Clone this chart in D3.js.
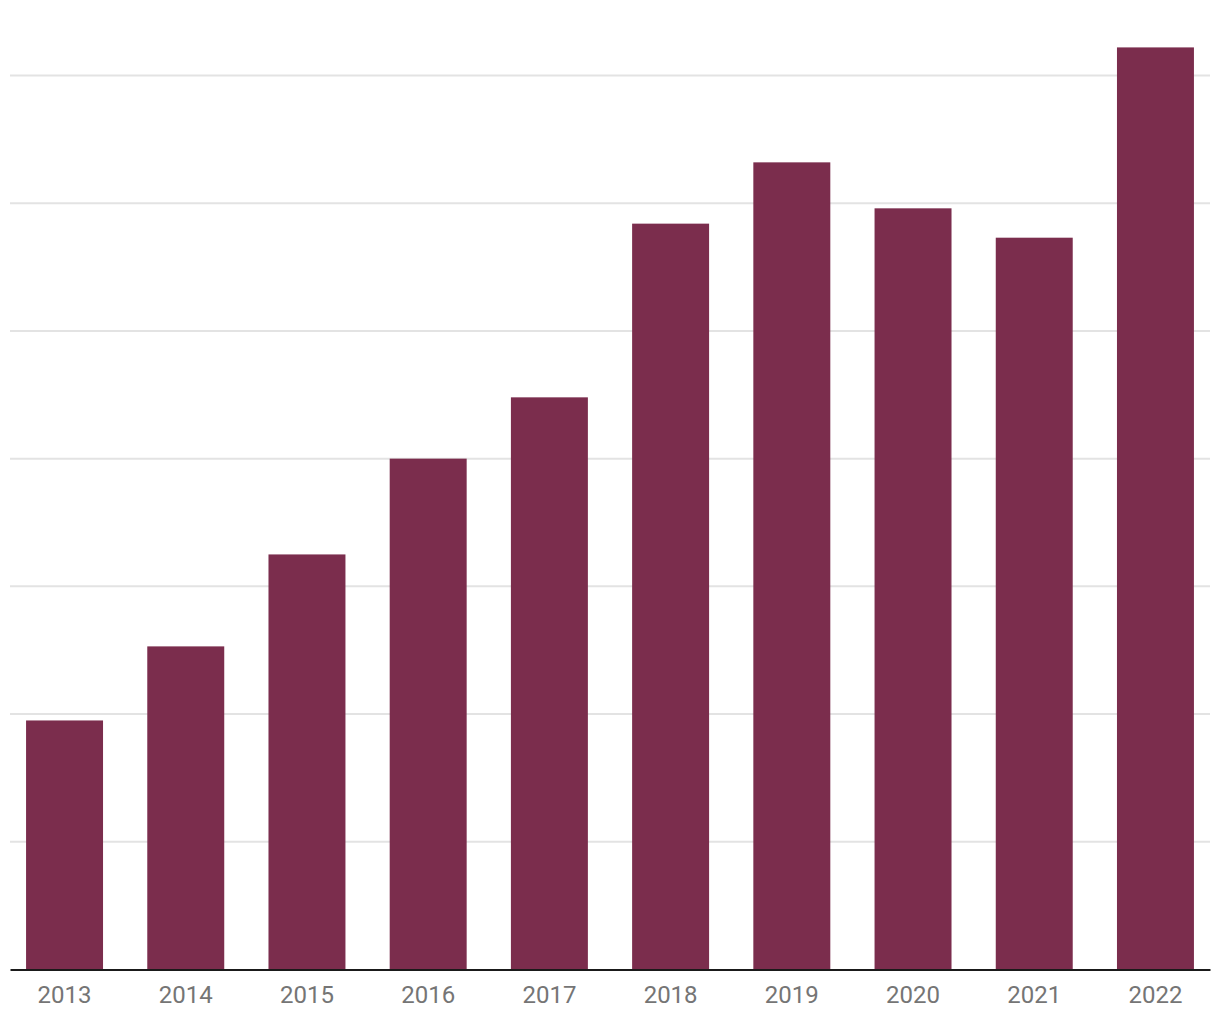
<!DOCTYPE html>
<html>
<head>
<meta charset="utf-8">
<script src="https://cdn.jsdelivr.net/npm/d3@7"></script>
<style>
  body { margin: 0; background: #fff; }
  .tick text { font-family: Roboto, sans-serif; }
</style>
</head>
<body>
<div id="chart"></div>
<script>
var svgWidth = 1220;
var svgHeight = 1020;

// chart values (no y labels shown, gridlines every 10)
var years = ["2013", "2014", "2015", "2016", "2017", "2018", "2019", "2020", "2021", "2022"];
var values = [19.5, 25.3, 32.5, 40.0, 44.8, 58.4, 63.2, 59.6, 57.3, 72.2];
var gridTicks = [10, 20, 30, 40, 50, 60, 70];

var margin = { top: 75.5, right: 10, bottom: 50.5, left: 10 };
var width = svgWidth - margin.left - margin.right;
var height = svgHeight - margin.top - margin.bottom;

var svg = d3.select("#chart")
  .append("svg")
  .attr("width", svgWidth)
  .attr("height", svgHeight);

var chartGroup = svg.append("g")
  .attr("transform", `translate(${margin.left}, ${margin.top})`);

var xBandScale = d3.scaleBand()
  .domain(years)
  .range([0, width])
  .paddingInner(0.365)
  .paddingOuter(0.1325);

var yLinearScale = d3.scaleLinear()
  .domain([0, 70])
  .range([height, 0]);

// gridlines
chartGroup.selectAll("line.grid")
  .data(gridTicks)
  .enter()
  .append("line")
  .attr("class", "grid")
  .attr("x1", 0)
  .attr("x2", width)
  .attr("y1", d => yLinearScale(d))
  .attr("y2", d => yLinearScale(d))
  .attr("stroke", "#e3e3e3")
  .attr("stroke-width", 2);

// bars
chartGroup.selectAll("rect.bar")
  .data(values)
  .enter()
  .append("rect")
  .attr("class", "bar")
  .attr("x", (d, i) => xBandScale(years[i]))
  .attr("width", xBandScale.bandwidth())
  .attr("y", d => yLinearScale(d))
  .attr("height", d => height - yLinearScale(d))
  .attr("fill", "#7b2d4d");

// x axis
var bottomAxis = d3.axisBottom(xBandScale).tickSize(0).tickPadding(16);
var xAxis = chartGroup.append("g")
  .attr("transform", `translate(0, ${height})`)
  .call(bottomAxis);

xAxis.select(".domain")
  .attr("stroke", "#1a1a1a")
  .attr("stroke-width", 2);

xAxis.selectAll("text")
  .attr("fill", "#757575")
  .attr("font-size", "24px");
</script>
</body>
</html>
